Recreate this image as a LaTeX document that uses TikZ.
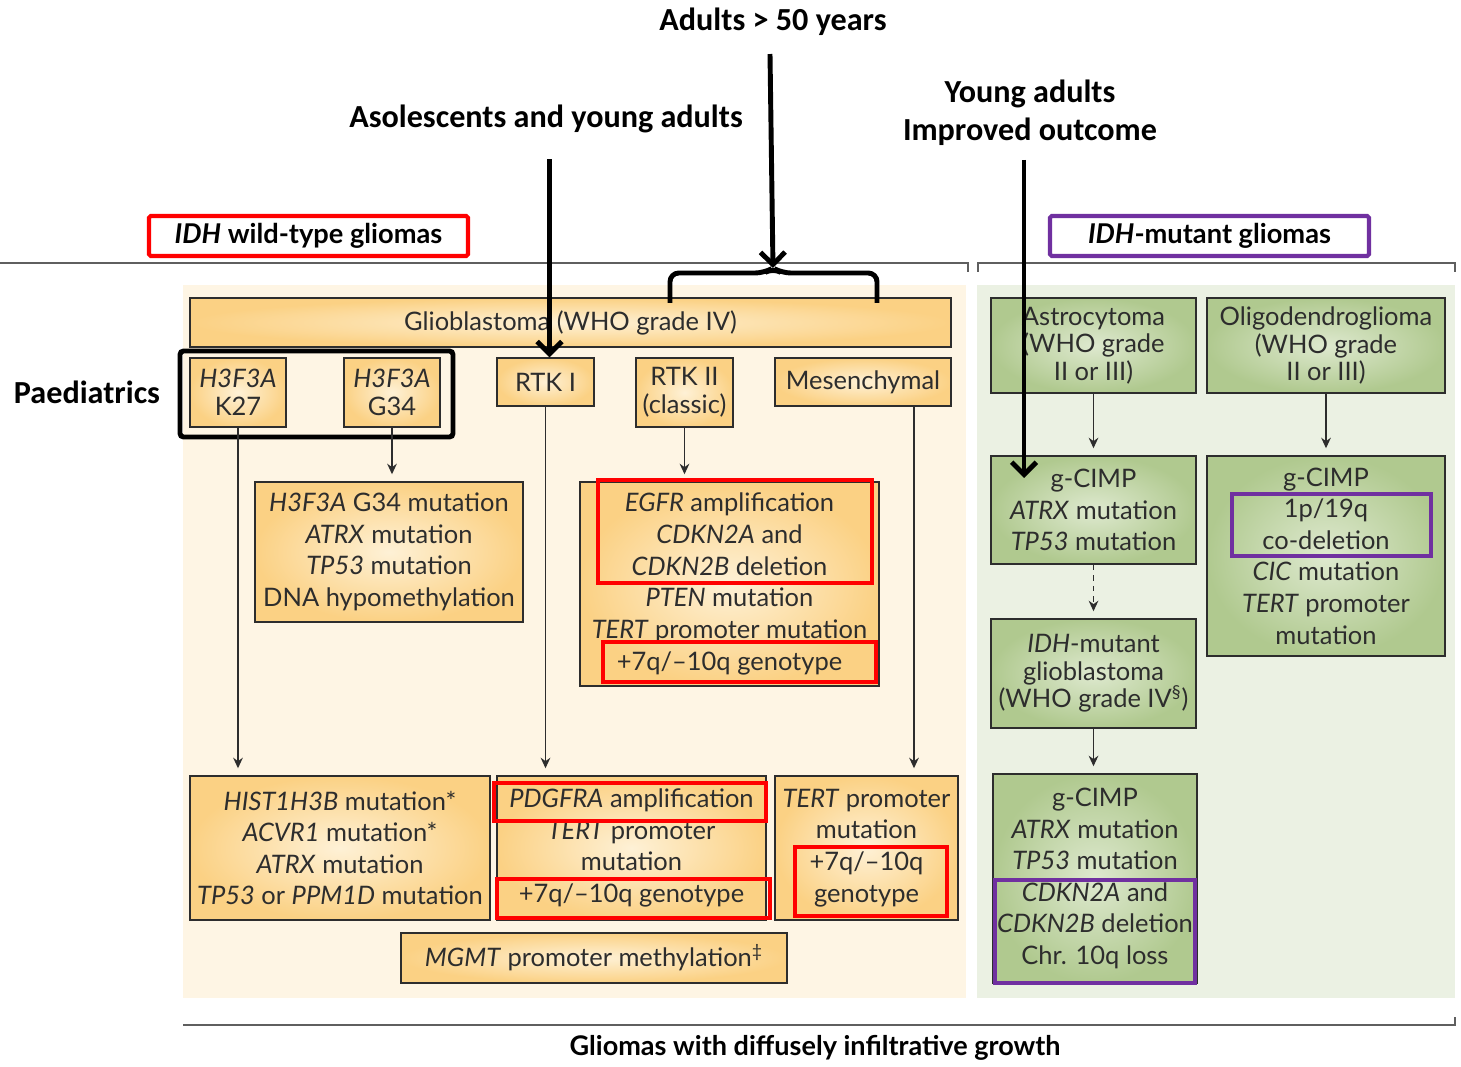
\documentclass[tikz,border=0pt]{standalone}
\usepackage{fontspec}
\setmainfont{Lato}
\newfontfamily\headfont{Carlito}
\usetikzlibrary{arrows.meta,fit,calc}
\definecolor{Ink}{RGB}{45,45,45}
\definecolor{Rule}{RGB}{95,95,95}
\definecolor{Cream}{RGB}{254,245,228}
\definecolor{Mint}{RGB}{235,241,227}
\definecolor{OrEdge}{RGB}{251,209,132}
\definecolor{OrMid}{RGB}{254,241,214}
\definecolor{GrEdge}{RGB}{176,201,143}
\definecolor{GrMid}{RGB}{222,233,207}
\definecolor{Purp}{RGB}{112,48,160}
\definecolor{RedMark}{RGB}{255,0,0}

\begin{document}
\begin{tikzpicture}[x=0.02cm,y=-0.02cm,
  txt/.style={font=\fontsize{14.5}{18}\selectfont,text=Ink,align=center},
  tight/.style={font=\fontsize{14.5}{15.7}\selectfont},
  sz/.style 2 args={minimum width=#1*0.02cm,minimum height=#2*0.02cm,inner sep=0pt},
  obox/.style 2 args={sz={#1}{#2},draw=Ink,line width=0.8pt,inner color=OrMid,outer color=OrEdge,txt},
  gbox/.style 2 args={sz={#1}{#2},draw=Ink,line width=0.8pt,inner color=GrMid,outer color=GrEdge,txt},
  mark/.style 2 args={fit={#2},inner sep=0pt,draw=#1,line width=2.3pt},
  tagbox/.style={sz={319}{40},draw=#1,line width=2.3pt,fill=white,rounded corners=1pt,
    font=\fontsize{15.5}{18}\selectfont\bfseries,text=black},
  head/.style={font=\headfont\bfseries\fontsize{18.3}{21.5}\selectfont,text=black,align=center},
  arr/.style={draw=Ink,line width=0.8pt,-{Stealth[length=6pt,width=5.5pt]},shorten >=4pt},
  big/.style={line width=2.8pt,-{Straight Barb[length=7pt,width=14pt]}},
  rule/.style={draw=Rule,line width=0.9pt}]
  \fill[white] (0,0) rectangle (1461,1067);
  \useasboundingbox (0,0) rectangle (1461,1067);
  \fill[Cream] (183,285) rectangle (966,998);\fill[Mint] (977,285) rectangle (1455,998);
  \draw[rule] (0,263) -- (968,263) -- (968,272);
  \draw[rule] (978,272) -- (978,263) -- (1455,263) -- (1455,272);
  \draw[rule] (183,1025) -- (1455,1025) -- (1455,1017);
  \node[tagbox=RedMark] (wt) at (308.5,236) {\textit{IDH} wild-type gliomas};
  \node[tagbox=Purp] (mt) at (1209.5,236) {\textit{IDH}-mutant gliomas};
  \node[font=\fontsize{15.4}{18}\selectfont\bfseries] (diff) at (815,1048) {Gliomas with diffusely infiltrative growth};

  \node[obox={761}{49}] (gbm) at (570.5,322.5) {Glioblastoma (WHO grade IV)};
  \node[obox={96}{69},tight] (k27) at (238,392.5) {\textit{H3F3A}\\K27};
  \node[obox={96}{69},tight] (g34) at (392,392.5) {\textit{H3F3A}\\G34};
  \node[obox={97}{48}] (rtk1) at (545.5,382) {RTK I};
  \node[obox={97}{69},tight] (rtk2) at (684.5,392.5) {RTK II\\(classic)};
  \node[obox={176}{48}] (mes) at (863,382) {Mesenchymal};
  \node[obox={268}{140}] (g34m) at (389,552) {\textit{H3F3A} G34 mutation\\\textit{ATRX} mutation\\\textit{TP53} mutation\\DNA hypomethylation};
  \node[obox={299}{204}] (egfr) at (729.5,584) {\textit{EGFR} amplification\\\textit{CDKN2A} and\\\textit{CDKN2B} deletion\\\textit{PTEN} mutation\\\textit{TERT} promoter mutation\\+7q/--10q genotype};
  \node[obox={300}{144}] (hist) at (340,848) {\textit{HIST1H3B} mutation*\\\textit{ACVR1} mutation*\\\textit{ATRX} mutation\\\textit{TP53} or \textit{PPM1D} mutation};
  \node[obox={269}{144}] (pdgf) at (631.5,848) {\textit{PDGFRA} amplification\\\textit{TERT} promoter\\mutation\\+7q/--10q genotype};
  \node[obox={183}{144}] (tert) at (866.5,848) {\textit{TERT} promoter\\mutation\\+7q/--10q\\genotype};
  \node[obox={386}{50}] (mgmt) at (594,958) {\textit{MGMT} promoter methylation\textsuperscript{‡}};

  \node[gbox={205}{95},tight] (astro) at (1093.5,345.5) {Astrocytoma\\(WHO grade\\II or III)};
  \node[gbox={238}{95},tight] (oligo) at (1326,345.5) {Oligodendroglioma\\(WHO grade\\II or III)};
  \node[gbox={205}{108}] (cimpa) at (1093.5,510) {g-CIMP\\\textit{ATRX} mutation\\\textit{TP53} mutation};
  \node[gbox={238}{200}] (cimpo) at (1326,556) {g-CIMP\\1p/19q\\co-deletion\\\textit{CIC} mutation\\\textit{TERT} promoter\\mutation};
  \node[gbox={205}{109},tight] (idhg) at (1093.5,673.5) {\textit{IDH}-mutant\\glioblastoma\\(WHO grade IV\textsuperscript{§})};
  \node[gbox={204}{209}] (cimpg) at (1095,878.5) {g-CIMP\\\textit{ATRX} mutation\\\textit{TP53} mutation\\\textit{CDKN2A} and\\\textit{CDKN2B} deletion\\Chr. 10q loss};

  \node[mark={RedMark}{(598,480) (872,583)}] (r1) {};
  \node[mark={RedMark}{(603,642) (876,682)}] (r2) {};
  \node[mark={RedMark}{(494,783) (766,821)}] (r3) {};
  \node[mark={RedMark}{(497,879) (770,918)}] (r4) {};
  \node[mark={RedMark}{(795,847) (947,916)}] (r5) {};
  \node[mark={Purp}{(1232,494) (1431,556)}] (p1) {};
  \node[mark={Purp}{(995,880) (1195,983)}] (p2) {};
  \draw[line width=2.8pt,rounded corners=2pt] (180,351) rectangle (453,437);

  \draw[arr] (k27.south) -- (k27.south |- hist.north);
  \draw[arr] (g34.south) -- (g34.south |- g34m.north);
  \draw[arr] (rtk1.south) -- (rtk1.south |- pdgf.north);
  \draw[arr] (rtk2.south) -- (rtk2.south |- egfr.north);
  \draw[arr] ($(mes.south)+(51,0)$) coordinate (ms) -- (ms |- tert.north);
  \draw[arr] (astro.south) -- (astro.south |- cimpa.north);
  \draw[arr] (oligo.south) -- (oligo.south |- cimpo.north);
  \draw[arr,dashed] (cimpa.south) -- (cimpa.south |- idhg.north);
  \draw[arr] (idhg.south) -- (idhg.south |- cimpg.north);

  \node[head] (adults) at (773,22) {Adults > 50 years};
  \node[head] (asol) at (546,119) {Asolescents and young adults};
  \node[head] (young) at (1030,113) {Young adults\\Improved outcome};
  \node[head] (paed) at (87,392) {Paediatrics};
  \coordinate (tip) at (773,268);\coordinate (yend) at (1024,478);
  \draw[line width=2.8pt,rounded corners=5pt] (670,303) -- (670,273) -- (764,273) -- (tip) -- (782,273) -- (877,273) -- (877,303);
  \draw[big] ($(adults.south -| tip)+(-3,12)$) -- (tip);
  \draw[big] ($(asol.south -| rtk1.north)+(4,20)$) -- ($(rtk1.north)+(4,0)$);
  \draw[big] ($(young.south -| yend)+(0,8)$) -- (yend);
\end{tikzpicture}
\end{document}
